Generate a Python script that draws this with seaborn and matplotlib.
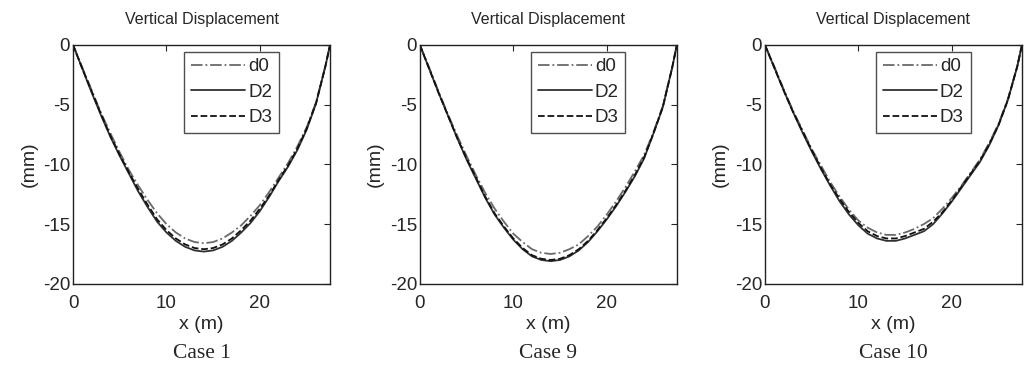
import numpy as np
import pandas as pd
import matplotlib
matplotlib.use('Agg')
import matplotlib.pyplot as plt
import seaborn as sns

# span positions along the beam (m)
x = [0, 1, 2, 3, 4, 5, 6, 7, 8, 9, 10, 11, 12, 13, 14, 15, 16, 17, 18, 19, 20,
     21, 22, 23, 24, 25, 26, 27, 27.5]

# Case 1 (mm)
d0_case1 = [0, -1.9, -3.8, -5.7, -7.4, -9.0, -10.5, -11.8, -13.0, -14.1, -15.0, -15.7, -16.2, -16.5, -16.6,
            -16.5, -16.2, -15.7, -15.1, -14.3, -13.4, -12.3, -11.1, -9.9, -8.5, -6.9, -4.8, -1.8, 0]
D2_case1 = [0, -2.0, -4.0, -5.9, -7.7, -9.3, -10.8, -12.3, -13.6, -14.8, -15.7, -16.4, -16.9, -17.2, -17.3,
            -17.2, -16.9, -16.4, -15.7, -14.9, -13.9, -12.7, -11.4, -10.2, -8.8, -7.1, -4.9, -1.8, 0]
D3_case1 = [0, -2.0, -3.9, -5.8, -7.6, -9.2, -10.7, -12.1, -13.4, -14.6, -15.5, -16.2, -16.7, -17.0, -17.1,
            -17.0, -16.7, -16.2, -15.5, -14.7, -13.7, -12.6, -11.3, -10.1, -8.7, -7.0, -4.9, -1.8, 0]

# Case 9 (mm)
d0_case9 = [0, -1.9, -3.9, -5.8, -7.6, -9.3, -10.9, -12.4, -13.7, -14.8, -15.8, -16.5, -17.1, -17.4, -17.5,
            -17.4, -17.1, -16.7, -16.0, -15.2, -14.2, -13.1, -11.9, -10.6, -9.2, -7.3, -5.1, -1.9, 0]
D2_case9 = [0, -2.0, -4.0, -5.9, -7.8, -9.6, -11.2, -12.8, -14.2, -15.3, -16.3, -17.1, -17.7, -18.0, -18.1,
            -18.0, -17.7, -17.2, -16.5, -15.6, -14.6, -13.5, -12.3, -11.0, -9.5, -7.4, -5.2, -1.9, 0]
D3_case9 = [0, -2.0, -4.0, -5.9, -7.8, -9.5, -11.1, -12.7, -14.1, -15.2, -16.2, -17.0, -17.6, -17.9, -18.0,
            -17.9, -17.6, -17.1, -16.4, -15.5, -14.5, -13.4, -12.2, -10.9, -9.4, -7.4, -5.2, -1.9, 0]

# Case 10 (mm)
d0_case10 = [0, -1.8, -3.7, -5.5, -7.1, -8.7, -10.1, -11.5, -12.7, -13.8, -14.7, -15.3, -15.7, -15.9, -15.9,
             -15.7, -15.4, -15.0, -14.5, -13.7, -12.8, -11.8, -10.7, -9.6, -8.2, -6.6, -4.5, -1.8, 0]
D2_case10 = [0, -1.9, -3.8, -5.6, -7.3, -8.9, -10.4, -11.8, -13.1, -14.2, -15.1, -15.8, -16.2, -16.4, -16.4,
             -16.2, -15.9, -15.6, -15.0, -14.1, -13.1, -12.0, -10.9, -9.8, -8.4, -6.7, -4.6, -1.8, 0]
D3_case10 = [0, -1.9, -3.8, -5.6, -7.2, -8.8, -10.3, -11.7, -12.9, -14.0, -14.9, -15.6, -16.0, -16.2, -16.2,
             -16.0, -15.7, -15.4, -14.8, -14.0, -13.0, -11.9, -10.8, -9.7, -8.3, -6.7, -4.6, -1.8, 0]

cases = ['Case 1', 'Case 9', 'Case 10']
series = [
    (d0_case1, D2_case1, D3_case1),
    (d0_case9, D2_case9, D3_case9),
    (d0_case10, D2_case10, D3_case10),
]
labels = ['d0', 'D2', 'D3']
styles = {'d0': ('-.', '#6a6a6a'), 'D2': ('-', '#303030'), 'D3': ('--', '#111111')}

sns.set_style('white')
plt.rcParams['font.family'] = ['Liberation Sans', 'DejaVu Sans']
plt.rcParams['axes.unicode_minus'] = False
plt.rcParams['xtick.direction'] = 'in'
plt.rcParams['ytick.direction'] = 'in'

fig = plt.figure(figsize=(10.24, 3.74), dpi=100)
lefts = [0.0713, 0.410, 0.747]

for left, case, vals in zip(lefts, cases, series):
    ax = fig.add_axes([left, 0.241, 0.251, 0.639])
    for lab, v in zip(labels, vals):
        df = pd.DataFrame({'x': x, 'y': v})
        ls, col = styles[lab]
        sns.lineplot(data=df, x='x', y='y', ax=ax, color=col, linestyle=ls,
                     linewidth=1.3, label=lab)
    ax.set_xlim(0, 27.5)
    ax.set_ylim(-20, 0)
    ax.set_xticks([0, 10, 20])
    ax.set_yticks([0, -5, -10, -15, -20])
    ax.tick_params(labelsize=13.5, length=4, width=0.8, top=True, right=True)
    ax.tick_params(axis='x', pad=8)
    ax.tick_params(axis='y', pad=2)
    for s in ax.spines.values():
        s.set_color('#222222')
        s.set_linewidth(1.0)
    ax.set_title('Vertical Displacement', fontsize=11.5, pad=15)
    ax.set_xlabel('x (m)', fontsize=14, labelpad=3)
    ax.set_ylabel('(mm)', fontsize=14, labelpad=4)
    leg = ax.legend(loc='upper right', bbox_to_anchor=(0.80, 0.972), fontsize=13.5,
                    frameon=True, fancybox=False, edgecolor='#222222',
                    handlelength=2.9, handletextpad=0.15, labelspacing=0.45,
                    borderpad=0.35, borderaxespad=0, markerfirst=True)
    leg.get_frame().set_linewidth(1.0)
    fig.text(left + 0.1255, 0.055, case, ha='center', va='center',
             fontsize=15.5, family=['Liberation Serif', 'DejaVu Serif'])

fig.savefig('out.png', dpi=100)
